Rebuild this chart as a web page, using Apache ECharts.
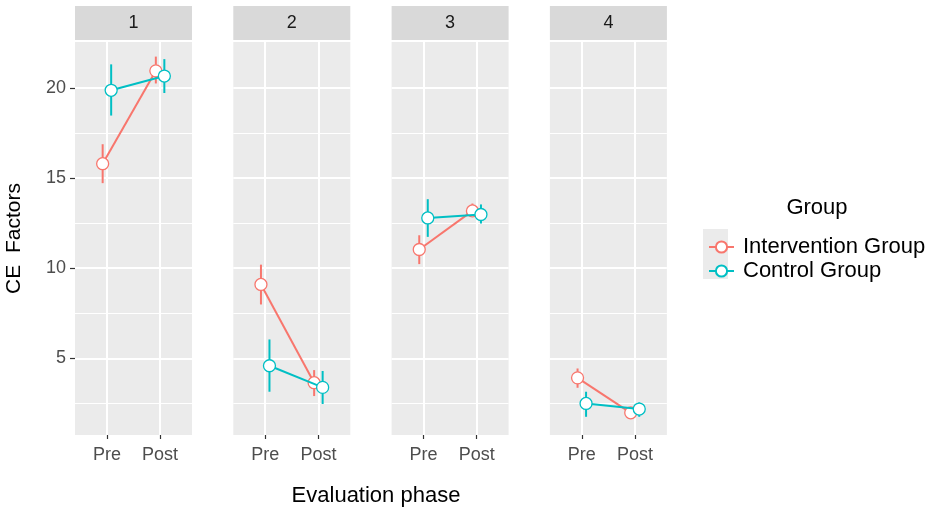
<!DOCTYPE html>
<html>
<head>
<meta charset="utf-8">
<script src="https://cdn.jsdelivr.net/npm/echarts@6/dist/echarts.min.js"></script>
<style>
  html, body { margin: 0; padding: 0; background: #fff; }
  #chart { width: 935px; height: 507px; }
</style>
</head>
<body>
<div id="chart"></div>
<script>
// facet labels and x categories
const panels = ['1', '2', '3', '4'];
const phases = ['Pre', 'Post'];
const groups = ['Intervention Group', 'Control Group'];
const yTicks = [5, 10, 15, 20];
const yMinorTicks = [2.5, 7.5, 12.5, 17.5];

// one [pre, post] pair per panel
const interventionMean = [[15.8, 20.95], [9.1, 3.65], [11.04, 13.18], [3.92, 1.98]];
const interventionLow  = [[14.72, 20.25], [7.99, 2.91], [10.23, 12.85], [3.37, 1.78]];
const interventionHigh = [[16.88, 21.74], [10.2, 4.35], [11.83, 13.59], [4.44, 2.2]];
const controlMean = [[19.87, 20.66], [4.59, 3.39], [12.79, 12.98], [2.5, 2.19]];
const controlLow  = [[18.47, 19.72], [3.15, 2.47], [11.74, 12.48], [1.76, 1.76]];
const controlHigh = [[21.31, 21.6], [6.05, 4.3], [13.83, 13.54], [3.15, 2.56]];

const colors = ['#F8766D', '#00BFC4'];
const dodge = 0.08;
const font = '"Liberation Sans", Arial, sans-serif';

const gridLeft = 75, gridStep = 158.3, gridWidth = 117, gridTop = 42, gridHeight = 393;

const chart = echarts.init(document.getElementById('chart'));

// vertical error bar from low to high
function renderErr(params, api) {
    const a = api.coord([api.value(0), api.value(1)]);
    const b = api.coord([api.value(0), api.value(2)]);
    return {
        type: 'line',
        shape: { x1: a[0], y1: a[1], x2: b[0], y2: b[1] },
        style: { stroke: api.visual('color'), lineWidth: 2 }
    };
}

const grids = [], xAxes = [], yAxes = [], series = [], graphics = [];
const means = [interventionMean, controlMean];
const lows = [interventionLow, controlLow];
const highs = [interventionHigh, controlHigh];

panels.forEach((p, i) => {
    const left = gridLeft + i * gridStep;
    grids.push({
        left: left, top: gridTop, width: gridWidth, height: gridHeight,
        show: true, backgroundColor: '#EBEBEB', borderWidth: 0
    });
    xAxes.push({
        type: 'value', gridIndex: i, min: 0.4, max: 2.6,
        axisLine: { show: false },
        axisTick: { show: true, customValues: [1, 2], length: 4, lineStyle: { color: '#333', width: 1.2 } },
        axisLabel: {
            customValues: [1, 2], margin: 11, color: '#4D4D4D', fontSize: 18, fontFamily: font,
            formatter: v => phases[Math.round(v) - 1]
        },
        splitLine: { show: true, lineStyle: { color: '#fff', width: 2 } }
    });
    // major grid + labels
    yAxes.push({
        type: 'value', gridIndex: i, min: 0.75, max: 22.55,
        axisLine: { show: false },
        axisTick: { show: i === 0, customValues: yTicks, length: 5, lineStyle: { color: '#333', width: 1.2 } },
        axisLabel: { show: i === 0, customValues: yTicks, margin: 9, color: '#4D4D4D', fontSize: 18, fontFamily: font },
        splitLine: { show: true, lineStyle: { color: '#fff', width: 2 } },
        name: i === 0 ? 'CE  Factors' : '',
        nameLocation: 'middle', nameGap: 50,
        nameTextStyle: { color: '#000', fontSize: 21, fontFamily: font }
    });
    // minor grid
    yAxes.push({
        type: 'value', gridIndex: i, min: 0.75, max: 22.55, position: 'left',
        axisLine: { show: false },
        axisTick: { show: false, customValues: yMinorTicks },
        axisLabel: { show: false, customValues: yMinorTicks },
        splitLine: { show: true, lineStyle: { color: '#fff', width: 1 } }
    });

    groups.forEach((g, k) => {
        const off = k === 0 ? -dodge : dodge;
        series.push({
            name: g, type: 'line', xAxisIndex: i, yAxisIndex: i * 2, z: 3 + k,
            data: [[1 + off, means[k][i][0]], [2 + off, means[k][i][1]]],
            symbol: 'circle', symbolSize: 12,
            lineStyle: { color: colors[k], width: 2 },
            itemStyle: { color: '#fff', borderColor: colors[k], borderWidth: 1.3 },
            emphasis: { disabled: true },
            animation: false
        });
    });
    groups.forEach((g, k) => {
        const off = k === 0 ? -dodge : dodge;
        series.push({
            name: g, type: 'custom', xAxisIndex: i, yAxisIndex: i * 2, z: 2 + k,
            renderItem: renderErr,
            itemStyle: { color: colors[k] },
            encode: { x: 0, y: [1, 2] },
            data: [[1 + off, lows[k][i][0], highs[k][i][0]], [2 + off, lows[k][i][1], highs[k][i][1]]],
            animation: false
        });
    });

    // facet strip
    graphics.push({
        type: 'rect', left: left, top: 6, shape: { width: gridWidth, height: 34 },
        style: { fill: '#D9D9D9' }, silent: true
    });
    graphics.push({
        type: 'text', x: left + gridWidth / 2, y: 23,
        style: { text: p, fill: '#1A1A1A', fontSize: 18, fontFamily: font, align: 'center', verticalAlign: 'middle' },
        silent: true
    });
});

// legend key background
graphics.push({
    type: 'rect', left: 703, top: 229, shape: { width: 25, height: 50 },
    style: { fill: '#EBEBEB' }, silent: true
});

chart.setOption({
    animation: false,
    textStyle: { fontFamily: font },
    title: {
        text: 'Evaluation phase',
        left: 371, top: 480, textAlign: 'center',
        textStyle: { color: '#000', fontSize: 22, fontWeight: 'normal', fontFamily: font }
    },
    legend: {
        data: groups,
        orient: 'vertical',
        left: 703, top: 231,
        itemWidth: 25, itemHeight: 14, itemGap: 2,
        textStyle: { color: '#000', fontSize: 22, fontFamily: font, padding: [0, 0, 0, 4] },
        selectedMode: false
    },
    graphic: graphics.concat([{
        type: 'text', x: 817, y: 208,
        style: { text: 'Group', fill: '#000', fontSize: 22, fontFamily: font, align: 'center', verticalAlign: 'middle' }
    }]),
    grid: grids,
    xAxis: xAxes,
    yAxis: yAxes,
    series: series
});
</script>
</body>
</html>
